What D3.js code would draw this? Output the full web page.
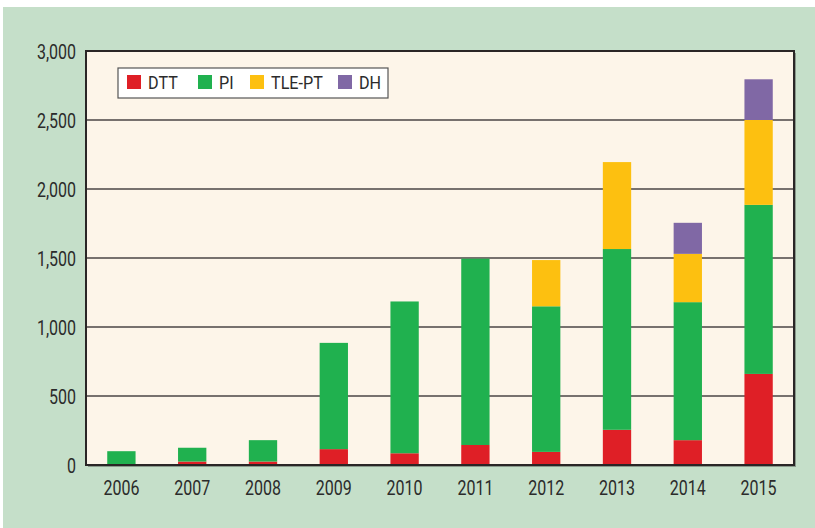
<!DOCTYPE html>
<html>
<head>
<meta charset="utf-8">
<script src="https://cdn.jsdelivr.net/npm/d3@7"></script>
<style>
body { margin: 0; background: #fff; }
svg text { font-family: "Roboto", sans-serif; fill: #2b2b2b; }
</style>
</head>
<body>
<svg id="chart" width="815" height="528"></svg>
<script>
const years = ['2006','2007','2008','2009','2010','2011','2012','2013','2014','2015'];
const keys = ['DTT','PI','TLE-PT','DH'];
const colors = ['#df1f26','#20b14f','#fdc010','#8068a5'];
const dtt = [0, 25, 25, 115, 85, 145, 95, 255, 180, 660];
const pi = [100, 100, 155, 770, 1100, 1350, 1055, 1310, 1000, 1225];
const tle = [0, 0, 0, 0, 0, 0, 335, 630, 350, 615];
const dh = [0, 0, 0, 0, 0, 0, 0, 0, 225, 295];
const yTicks = [0, 500, 1000, 1500, 2000, 2500, 3000];

const rows = years.map((y, i) => ({year: y, 'DTT': dtt[i], 'PI': pi[i], 'TLE-PT': tle[i], 'DH': dh[i]}));

const svg = d3.select('#chart');
const m = {left: 86, right: 794, top: 51, bottom: 465};
const sx = 0.8; // condensed look

svg.append('rect')
	.attr('x', 3).attr('y', 7)
	.attr('width', 812).attr('height', 521)
	.style('fill', '#c5dfc9');

const x = d3.scaleBand().domain(years).range([m.left, m.right]).paddingInner(0.6).paddingOuter(0.3);
const y = d3.scaleLinear().domain([0, 3000]).range([m.bottom, m.top]);

// shadow + plot area
svg.append('rect')
	.attr('x', m.left + 2).attr('y', m.top + 2)
	.attr('width', m.right - m.left).attr('height', m.bottom - m.top)
	.style('fill', '#8a9a8c');
svg.append('rect')
	.attr('x', m.left).attr('y', m.top)
	.attr('width', m.right - m.left).attr('height', m.bottom - m.top)
	.style('fill', '#fdf5e9');

// grid
svg.append('g').selectAll('line')
	.data(yTicks.slice(1, -1))
	.enter()
	.append('line')
	.attr('x1', m.left).attr('x2', m.right)
	.attr('y1', d => y(d)).attr('y2', d => y(d))
	.style('stroke', '#4a4444')
	.style('stroke-width', 1.6);

// bars
const stack = d3.stack().keys(keys)(rows);
svg.append('g').selectAll('g')
	.data(stack)
	.enter()
	.append('g')
	.style('fill', (d, i) => colors[i])
	.selectAll('rect')
	.data(d => d.filter(p => p[1] > p[0]))
	.enter()
	.append('rect')
	.attr('x', d => x(d.data.year))
	.attr('width', x.bandwidth())
	.attr('y', d => y(d[1]))
	.attr('height', d => y(d[0]) - y(d[1]));

// frame
svg.append('rect')
	.attr('x', m.left).attr('y', m.top)
	.attr('width', m.right - m.left).attr('height', m.bottom - m.top)
	.style('fill', 'none')
	.style('stroke', '#2a2626')
	.style('stroke-width', 2);

// y axis labels
const yAxis = d3.axisLeft(y).tickValues(yTicks).tickSize(0).tickPadding(0).tickFormat(d3.format(','));
const ya = svg.append('g').attr('transform', `translate(${m.left},0)`).call(yAxis);
ya.select('.domain').remove();
ya.selectAll('text')
	.style('font-size', '20px')
	.attr('x', -10 / sx)
	.attr('dy', '0.35em')
	.attr('transform', `scale(${sx},1)`);

const xAxis = d3.axisBottom(x).tickSize(0).tickPadding(16);
const xa = svg.append('g').attr('transform', `translate(0,${m.bottom})`).call(xAxis);
xa.select('.domain').remove();
xa.selectAll('text')
	.style('font-size', '20px')
	.attr('transform', `scale(${sx},1)`);

// legend
const lg = svg.append('g');
lg.append('rect')
	.attr('x', 118).attr('y', 68)
	.attr('width', 270).attr('height', 30)
	.style('fill', '#fff')
	.style('stroke', '#555')
	.style('stroke-width', 1.2);
const lx = [127, 198, 250, 338];
const items = lg.selectAll('.item')
	.data(keys)
	.enter()
	.append('g')
	.attr('class', 'item')
	.attr('transform', (d, i) => `translate(${lx[i]},75)`);
items.append('rect')
	.attr('width', 14).attr('height', 14)
	.style('fill', (d, i) => colors[i]);
items.append('text')
	.attr('x', 21 / 0.85).attr('y', 7)
	.attr('dy', '0.35em')
	.attr('transform', 'scale(0.85,1)')
	.style('font-size', '19px')
	.text(d => d);
</script>
</body>
</html>
